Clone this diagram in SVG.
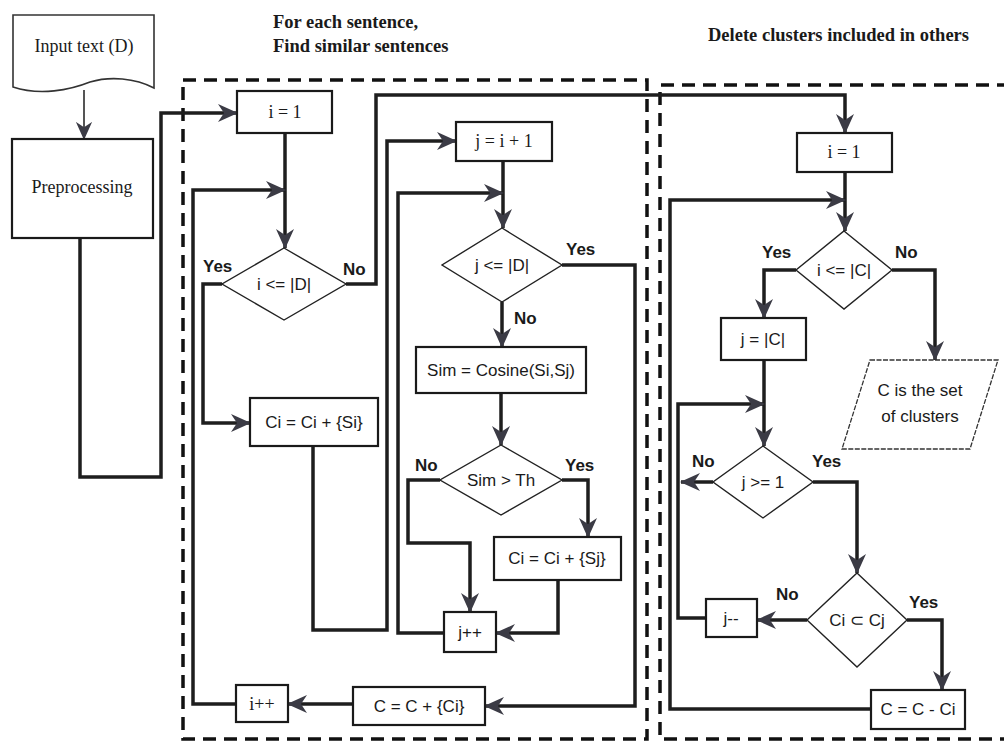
<svg xmlns="http://www.w3.org/2000/svg" width="1004" height="745" viewBox="0 0 1004 745">
<style>
.bg{fill:#ffffff}
.box{fill:#fff;stroke:#1a1a1a;stroke-width:2.2}
.dia{fill:#fff;stroke:#222;stroke-width:1.4}
.para{fill:#fff;stroke:#333;stroke-width:1.3;stroke-dasharray:5 1.5}
.doc{fill:#fff;stroke:#333;stroke-width:1.6}
.dash{fill:none;stroke:#111;stroke-width:3.5;stroke-dasharray:13 8}
.con{fill:none;stroke:#1e1e1e;stroke-width:3.5;stroke-linejoin:miter}
.thin{fill:none;stroke:#555;stroke-width:2}
.serif{font-family:"Liberation Serif",serif;font-size:18px;fill:#1a1a1a}
.sans{font-family:"Liberation Sans",Arial,sans-serif;font-size:17px;fill:#1a1a1a}
.title{font-family:"Liberation Serif",serif;font-size:18.5px;font-weight:bold;fill:#1a1a1a}
.lbl{font-family:"Liberation Sans",Arial,sans-serif;font-size:17px;font-weight:bold;fill:#1a1a1a}
.c{text-anchor:middle}
</style>
<defs>
<marker id="ah" markerUnits="userSpaceOnUse" viewBox="0 0 20 20" markerWidth="20" markerHeight="20" refX="19" refY="10" orient="auto">
<path d="M0,1 L20,10 L0,19 L6,10 Z" fill="#3b3b45"/>
</marker>
<marker id="ahs" markerUnits="userSpaceOnUse" viewBox="0 0 20 20" markerWidth="18" markerHeight="18" refX="19" refY="10" orient="auto">
<path d="M0,1 L20,10 L0,19 L6,10 Z" fill="#3b3b45"/>
</marker>
</defs>
<rect class="bg" x="0" y="0" width="1004" height="745"/>

<g id="titles">
<text class="title" x="273" y="28">For each sentence,</text>
<text class="title" x="273" y="52">Find similar sentences</text>
<text class="title" x="708" y="41">Delete clusters included in others</text>
</g>

<g id="regions">
<rect class="dash" x="183" y="80" width="464" height="659"/>
<path class="dash" d="M1010,85 H660 V739 H1010"/>
</g>

<g id="connectors">
<path class="thin" d="M84,90 V139" marker-end="url(#ahs)"/>
<path class="con" d="M80,238 V477 H161 V113 H237" marker-end="url(#ah)"/>
<path class="con" d="M285,133 V248" marker-end="url(#ah)"/>
<path class="con" d="M236,704 H193 V190 H285" marker-end="url(#ah)"/>
<path class="con" d="M222,284 H203 V423 H250" marker-end="url(#ah)"/>
<path class="con" d="M346,284 H376 V95 H845 V133" marker-end="url(#ah)"/>
<path class="con" d="M313,446 V630 H387 V141 H456" marker-end="url(#ah)"/>
<path class="con" d="M503,161 V228" marker-end="url(#ah)"/>
<path class="con" d="M444,633 H398 V193 H503" marker-end="url(#ah)"/>
<path class="con" d="M562,265 H635 V706 H485" marker-end="url(#ah)"/>
<path class="con" d="M502,302 V347" marker-end="url(#ah)"/>
<path class="con" d="M501,393 V445" marker-end="url(#ah)"/>
<path class="con" d="M440,480 H408 V543 H470 V612" marker-end="url(#ah)"/>
<path class="con" d="M562,480 H588 V537" marker-end="url(#ah)"/>
<path class="con" d="M558,580 V633 H496" marker-end="url(#ah)"/>
<path class="con" d="M353,704 H288" marker-end="url(#ah)"/>
<path class="con" d="M845,172 V231" marker-end="url(#ah)"/>
<path class="con" d="M871,709 H670 V200 H845" marker-end="url(#ah)"/>
<path class="con" d="M796,270 H764 V318" marker-end="url(#ah)"/>
<path class="con" d="M892,270 H935 V360" marker-end="url(#ah)"/>
<path class="con" d="M764,360 V446" marker-end="url(#ah)"/>
<path class="con" d="M706,618 H678 V404 H764" marker-end="url(#ah)"/>
<path class="con" d="M713,482 H681" marker-end="url(#ah)"/>
<path class="con" d="M813,482 H857 V573" marker-end="url(#ah)"/>
<path class="con" d="M807,620 H757" marker-end="url(#ah)"/>
<path class="con" d="M907,620 H942 V690" marker-end="url(#ah)"/>
</g>

<g id="input">
<path class="doc" d="M13,15 H154 V88 C135,78 110,76 90,82 C70,90 40,96 13,87 Z"/>
<text class="serif c" x="84" y="52">Input text (D)</text>
</g>
<g id="preprocessing">
<rect class="box" x="12" y="139" width="141" height="99"/>
<text class="serif c" x="82" y="193">Preprocessing</text>
</g>

<g id="i1">
<rect class="box" x="237" y="91" width="95" height="42"/>
<text class="serif c" x="285" y="118">i = 1</text>
</g>
<g id="cond_iD">
<polygon class="dia" points="284,248 346,284 284,320 222,284"/>
<text class="sans c" x="284" y="290">i &lt;= |D|</text>
</g>
<g id="addSi">
<rect class="box" x="250" y="398" width="128" height="48"/>
<text class="sans c" x="314" y="428">Ci = Ci + {Si}</text>
</g>
<g id="iinc">
<rect class="box" x="236" y="685" width="52" height="37"/>
<text class="serif c" x="262" y="710">i++</text>
</g>
<g id="addCi">
<rect class="box" x="353" y="687" width="132" height="38"/>
<text class="sans c" x="419" y="712">C = C + {Ci}</text>
</g>
<g id="j1">
<rect class="box" x="456" y="122" width="96" height="39"/>
<text class="serif c" x="504" y="147">j = i + 1</text>
</g>
<g id="cond_jD">
<polygon class="dia" points="502,228 562,265 502,302 442,265"/>
<text class="sans c" x="502" y="271">j &lt;= |D|</text>
</g>
<g id="sim">
<rect class="box" x="416" y="347" width="170" height="46"/>
<text class="sans c" x="501" y="376">Sim = Cosine(Si,Sj)</text>
</g>
<g id="cond_sim">
<polygon class="dia" points="501,445 562,480 501,515 440,480"/>
<text class="sans c" x="501" y="486">Sim &gt; Th</text>
</g>
<g id="addSj">
<rect class="box" x="494" y="537" width="127" height="43"/>
<text class="sans c" x="557" y="564">Ci = Ci + {Sj}</text>
</g>
<g id="jinc">
<rect class="box" x="444" y="612" width="52" height="40"/>
<text class="sans c" x="470" y="638">j++</text>
</g>

<g id="i1b">
<rect class="box" x="797" y="133" width="95" height="39"/>
<text class="serif c" x="844" y="158">i = 1</text>
</g>
<g id="cond_iC">
<polygon class="dia" points="844,231 892,270 844,309 796,270"/>
<text class="sans c" x="844" y="276">i &lt;= |C|</text>
</g>
<g id="jC">
<rect class="box" x="721" y="318" width="85" height="42"/>
<text class="sans c" x="763" y="345">j = |C|</text>
</g>
<g id="result">
<polygon class="para" points="870,360 998,360 970,449 842,449"/>
<text class="sans c" x="920" y="396">C is the set</text>
<text class="sans c" x="920" y="422">of clusters</text>
</g>
<g id="cond_j1">
<polygon class="dia" points="763,446 813,482 763,518 713,482"/>
<text class="sans c" x="763" y="488">j &gt;= 1</text>
</g>
<g id="cond_sub">
<polygon class="dia" points="857,573 907,620 857,667 807,620"/>
<text class="sans c" x="857" y="626">Ci ⊂ Cj</text>
</g>
<g id="jdec">
<rect class="box" x="706" y="599" width="51" height="38"/>
<text class="sans c" x="731" y="624">j--</text>
</g>
<g id="remove">
<rect class="box" x="871" y="690" width="94" height="39"/>
<text class="sans c" x="918" y="715">C = C - Ci</text>
</g>

<g id="labels">
<text class="lbl" x="203" y="272">Yes</text>
<text class="lbl" x="343" y="275">No</text>
<text class="lbl" x="566" y="255">Yes</text>
<text class="lbl" x="514" y="324">No</text>
<text class="lbl" x="415" y="471">No</text>
<text class="lbl" x="565" y="471">Yes</text>
<text class="lbl" x="762" y="258">Yes</text>
<text class="lbl" x="895" y="258">No</text>
<text class="lbl" x="692" y="467">No</text>
<text class="lbl" x="812" y="467">Yes</text>
<text class="lbl" x="776" y="600">No</text>
<text class="lbl" x="909" y="608">Yes</text>
</g>
</svg>
